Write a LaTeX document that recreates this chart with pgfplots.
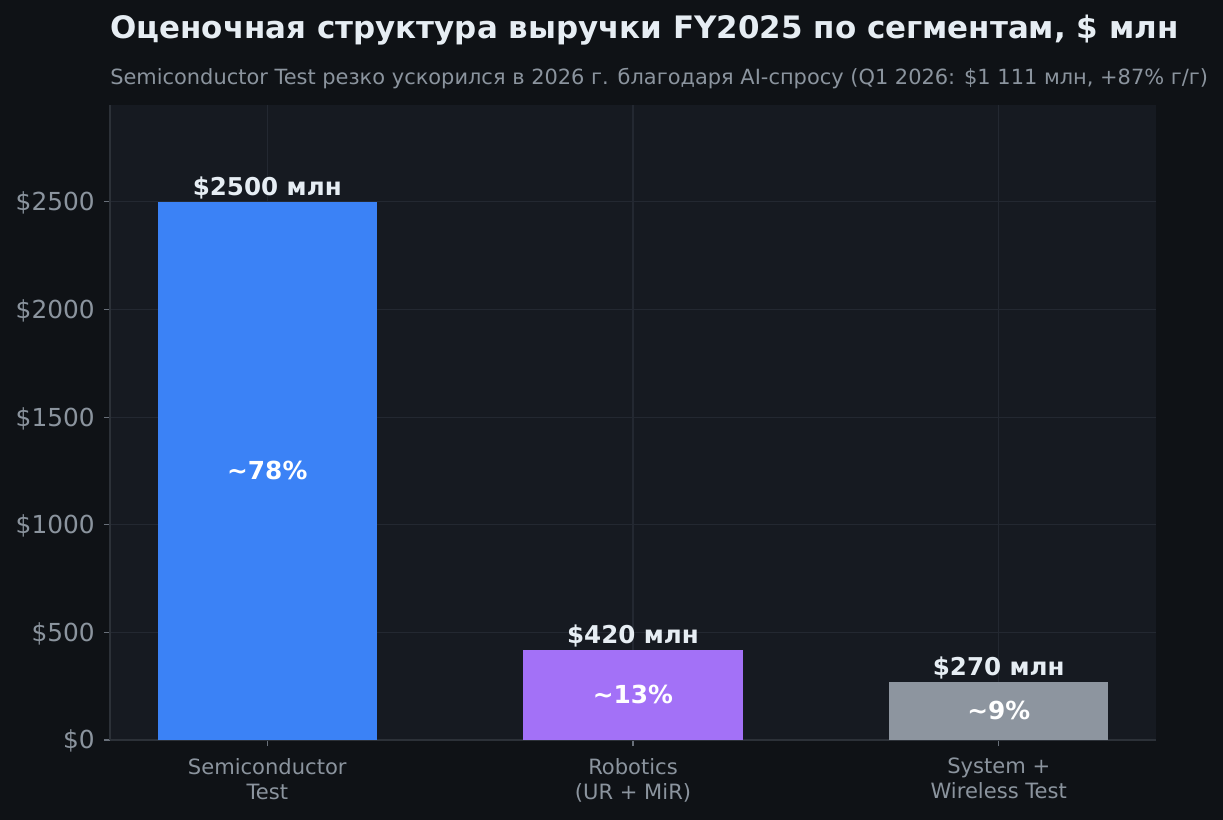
\documentclass[border=0pt]{standalone}
\usepackage{fontspec}
\setmainfont{DejaVu Sans}
\usepackage{pgfplots}
\pgfplotsset{compat=1.18}

\definecolor{pagebg}{HTML}{0F1216}
\definecolor{panelbg}{HTML}{161A21}
\definecolor{gridc}{HTML}{232831}
\definecolor{spine}{HTML}{2C3138}
\definecolor{titlec}{HTML}{E6EDF3}
\definecolor{mutedc}{HTML}{8B949E}
\definecolor{barblue}{HTML}{3B82F6}
\definecolor{barpurple}{HTML}{A371F7}
\definecolor{bargrey}{HTML}{8D959F}

\begin{document}
\begin{tikzpicture}
% page: 1px = 0.75pt, axis box at px (110..1156, 105..740)
\fill[pagebg] (-82.5pt,-60pt) rectangle (834.75pt,555pt);
\useasboundingbox (-82.5pt,-60pt) rectangle (834.75pt,555pt);
\begin{axis}[
    at={(0pt,0pt)}, anchor=south west,
    scale only axis,
    width=784.5pt, height=476.25pt,
    xmin=-0.43, xmax=2.43,
    ymin=0, ymax=2950,
    axis background/.style={fill=panelbg},
    axis x line*=bottom, axis y line*=left,
    axis line style={draw=spine, line width=0.9pt, -},
    xmajorgrids, ymajorgrids,
    grid style={draw=gridc, line width=0.9pt},
    tick align=outside,
    major tick length=4.5pt,
    tick style={draw=mutedc!70!panelbg, line width=0.9pt},
    xtick={0,1,2},
    xticklabels={Semiconductor\\Test, Robotics\\(UR + MiR), System +\\Wireless Test},
    xticklabel style={font=\fontsize{15.8}{18.75}\selectfont, text=mutedc, align=center, yshift=-5.5pt},
    ytick={0,500,1000,1500,2000,2500},
    yticklabels={\$0,\$500,\$1000,\$1500,\$2000,\$2500},
    yticklabel style={font=\fontsize{18.6}{22}\selectfont, text=mutedc, xshift=-3.5pt, yshift=-1pt},
    bar width=0.6, bar shift=0pt,
    clip=false,
]
\addplot[ybar, fill=barblue, draw=none] coordinates {(0,2500)};
\addplot[ybar, fill=barpurple, draw=none] coordinates {(1,420)};
\addplot[ybar, fill=bargrey, draw=none] coordinates {(2,270)};
% value labels
\addplot[only marks, mark=none, nodes near coords, point meta=explicit symbolic,
    nodes near coords style={anchor=south, inner sep=0pt, yshift=2pt,
      text=titlec, font=\fontsize{18.4}{22}\selectfont\bfseries}]
    coordinates {(0,2500) [\$2500 млн] (1,420) [\$420 млн] (2,270) [\$270 млн]};
% share labels
\addplot[only marks, mark=none, nodes near coords, point meta=explicit symbolic,
    nodes near coords style={anchor=center, inner sep=0pt,
      text=white, font=\fontsize{18.6}{22}\selectfont\bfseries}]
    coordinates {(0,1250) [\textasciitilde78\%] (1,210) [\textasciitilde13\%] (2,135) [\textasciitilde9\%]};
\node[anchor=base west, inner sep=0pt, text=titlec, font=\fontsize{23.2}{27}\selectfont\bfseries]
    at (rel axis cs:0,1) [yshift=49.5pt] {Оценочная структура выручки FY2025 по сегментам, \$ млн};
\node[anchor=base west, inner sep=0pt, text=mutedc, font=\fontsize{15.7}{18}\selectfont]
    at (rel axis cs:0,1) [yshift=15.25pt] {Semiconductor Test резко ускорился в 2026 г. благодаря AI-спросу (Q1 2026: \$1 111 млн, +87\% г/г)};
\end{axis}
\end{tikzpicture}
\end{document}
